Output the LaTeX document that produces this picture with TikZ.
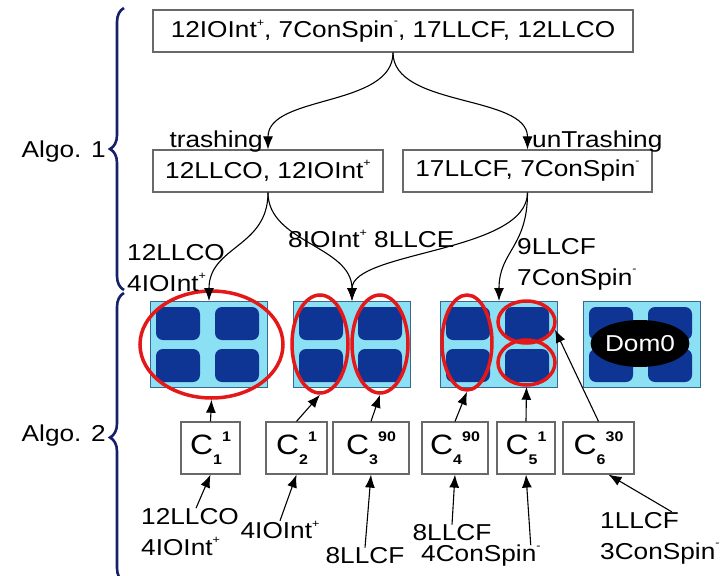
\documentclass[tikz,border=0pt]{standalone}
\usepackage{fontspec}
\setmainfont[FakeStretch=1.14]{Liberation Sans}
\usepackage[svgnames]{xcolor}
\usetikzlibrary{arrows.meta}
\usetikzlibrary{shapes.geometric}
\usetikzlibrary{decorations.pathreplacing}

\definecolor{clusterblue}{RGB}{140,224,244}
\definecolor{coreblue}{RGB}{14,52,148}
\definecolor{braceblue}{RGB}{22,32,105}
\definecolor{ringred}{RGB}{228,24,24}

\newcommand{\splus}{\raisebox{0.5em}{\fontsize{11}{11}\selectfont +}}
\newcommand{\sminus}{\raisebox{0.55em}{\fontsize{11}{11}\selectfont -}}
\newcommand{\cidx}{\fontsize{14}{14}\selectfont\bfseries}
\newcommand{\cname}[2]{C\rlap{\raisebox{-10pt}{\cidx #1}}\hspace{9pt}\raisebox{13pt}{\cidx #2}}

\begin{document}
\begin{tikzpicture}[x=1pt, y=-1pt,
            txt/.style={font=\fontsize{23}{31}\selectfont, inner sep=0pt},
            setbox/.style={draw=DimGray, line width=1.2pt, minimum height=42pt, inner sep=0pt, font=\fontsize{23}{29}\selectfont},
            vmbox/.style={draw=DimGray, line width=1.2pt, minimum height=52pt, inner sep=0pt, font=\fontsize{28}{28}\selectfont},
            cluster/.style={draw=SteelBlue!80!black, fill=clusterblue, line width=1pt, minimum width=117pt, minimum height=86pt, inner sep=0pt, anchor=north west},
            core/.style={fill=coreblue, rounded corners=7pt},
            ring/.style={ellipse, draw=ringred, line width=3.5pt, inner sep=0pt},
            flow/.style={-{Latex[length=13pt, width=10pt]}, line width=1.1pt},
            algobrace/.style={draw=braceblue, line width=2.6pt, decorate, decoration={brace, amplitude=14pt}}
        ]
            \useasboundingbox (0,0) rectangle (724,576);

            % algorithm braces
            \draw[algobrace] (124,290) -- (124,8);
            \draw[algobrace] (124,582) -- (124,293);
            \node[txt, anchor=east] (algoa) at (106,152) {Algo. 1};
            \node[txt, anchor=east] (algob) at (106,436) {Algo. 2};

            % sets
            \node[setbox, minimum width=480pt] (all) at (393,31) {12IOInt\splus, 7ConSpin\sminus, 17LLCF, 12LLCO};
            \node[setbox, minimum width=230pt] (trs) at (268,171) {12LLCO, 12IOInt\splus};
            \node[setbox, minimum width=249pt] (untrs) at (527.5,171) {17LLCF, 7ConSpin\sminus};
            \node[txt, anchor=base east] (trashlab) at (263,147) {trashing};
            \node[txt, anchor=base west] (untrashlab) at (532,147) {unTrashing};

            % clusters
            \node[cluster] (cl1) at (150,301) {};
            \node[cluster] (cl2) at (293,301) {};
            \node[cluster] (cl3) at (440,301) {};
            \node[cluster] (cl4) at (583,301) {};
            \foreach \cx in {150,293,440,583}{
                \foreach \dx in {6,65}{
                    \foreach \dy in {6,48}{
                        \fill[core] (\cx+\dx,301+\dy) rectangle +(44,33);
                    }
                }
            }
            \node[ellipse, fill=black, text=white, minimum width=98pt, minimum height=47pt, inner sep=0pt, font=\fontsize{23}{23}\selectfont] (dom) at (640,343.5) {Dom0};

            % placements
            \node[ring, minimum width=143pt, minimum height=107pt] (r1) at (211.5,344.5) {};
            \node[ring, minimum width=56pt, minimum height=98pt] (r2) at (320,344) {};
            \node[ring, minimum width=56pt, minimum height=98pt] (r3) at (380,344) {};
            \node[ring, minimum width=50pt, minimum height=95pt] (r4) at (467,342.5) {};
            \node[ring, minimum width=57pt, minimum height=42pt] (r5) at (526.5,322) {};
            \node[ring, minimum width=57pt, minimum height=45pt] (r6) at (526.5,362.5) {};

            % split
            \draw[flow] (all.south) .. controls +(0,55) and +(0,-55) .. (trs.north);
            \draw[flow] (all.south) .. controls +(0,55) and +(0,-55) .. (untrs.north);
            \draw[flow] (trs.south) .. controls +(0,55) and +(0,-55) .. (cl1.north);
            \draw[flow] (trs.south) .. controls +(0,50) and +(0,-55) .. (cl2.north);
            \draw[flow] (untrs.south) .. controls +(0,60) and +(0,-50) .. (cl2.north);
            \draw[flow] (untrs.south) .. controls +(0,55) and +(0,-50) .. (cl3.north);
            \node[txt, anchor=west, align=left] (lab1) at (127,268) {12LLCO\\4IOInt\splus};
            \node[txt, anchor=west] (lab2) at (288,239) {8IOInt\splus{} 8LLCE};
            \node[txt, anchor=west, align=left] (lab3) at (517,264) {9LLCF\\7ConSpin\sminus};

            % containers
            \node[vmbox, minimum width=59pt] (c1) at (210.5,448) {\cname{1}{1}};
            \node[vmbox, minimum width=61pt] (c2) at (296.5,448) {\cname{2}{1}};
            \node[vmbox, minimum width=76pt] (c3) at (371,448) {\cname{3}{90}};
            \node[vmbox, minimum width=66pt] (c4) at (455,448) {\cname{4}{90}};
            \node[vmbox, minimum width=58pt] (c5) at (526,448) {\cname{5}{1}};
            \node[vmbox, minimum width=71pt] (c6) at (598.5,448) {\cname{6}{30}};
            \draw[flow] (c1.north) -- (r1.south);
            \draw[flow] (c2.north) -- (r2.south);
            \draw[flow] (c3.north) -- (r3.south);
            \draw[flow] (c4.north) -- (r4.south);
            \draw[flow] (c5.north) -- (r6.south);
            \draw[flow] (c6.north) -- (r5.-15);

            % demands
            \node[txt, anchor=west, align=left] (bl1) at (141,532) {12LLCO\\4IOInt\splus};
            \node[txt] (bl2) at (280,530) {4IOInt\splus};
            \node[txt] (bl3) at (365,556) {8LLCF};
            \node[txt] (bl4) at (452,533) {8LLCF};
            \node[txt, anchor=west] (bl5) at (421,556) {4ConSpin\sminus};
            \node[txt, anchor=west, align=left] (bl6) at (600,538) {1LLCF\\3ConSpin\sminus};
            \draw[flow] ([xshift=6pt]bl1.north) -- (c1.south);
            \draw[flow] (bl2.north) -- (c2.south);
            \draw[flow] (bl3.north) -- (c3.south);
            \draw[flow] (bl4.north) -- (c4.south);
            \draw[flow] ([xshift=-10pt]bl5.north east) -- (c5.south);
            \draw[flow] ([xshift=12pt]bl6.north) -- ([xshift=10pt]c6.south);
        \end{tikzpicture}
\end{document}
